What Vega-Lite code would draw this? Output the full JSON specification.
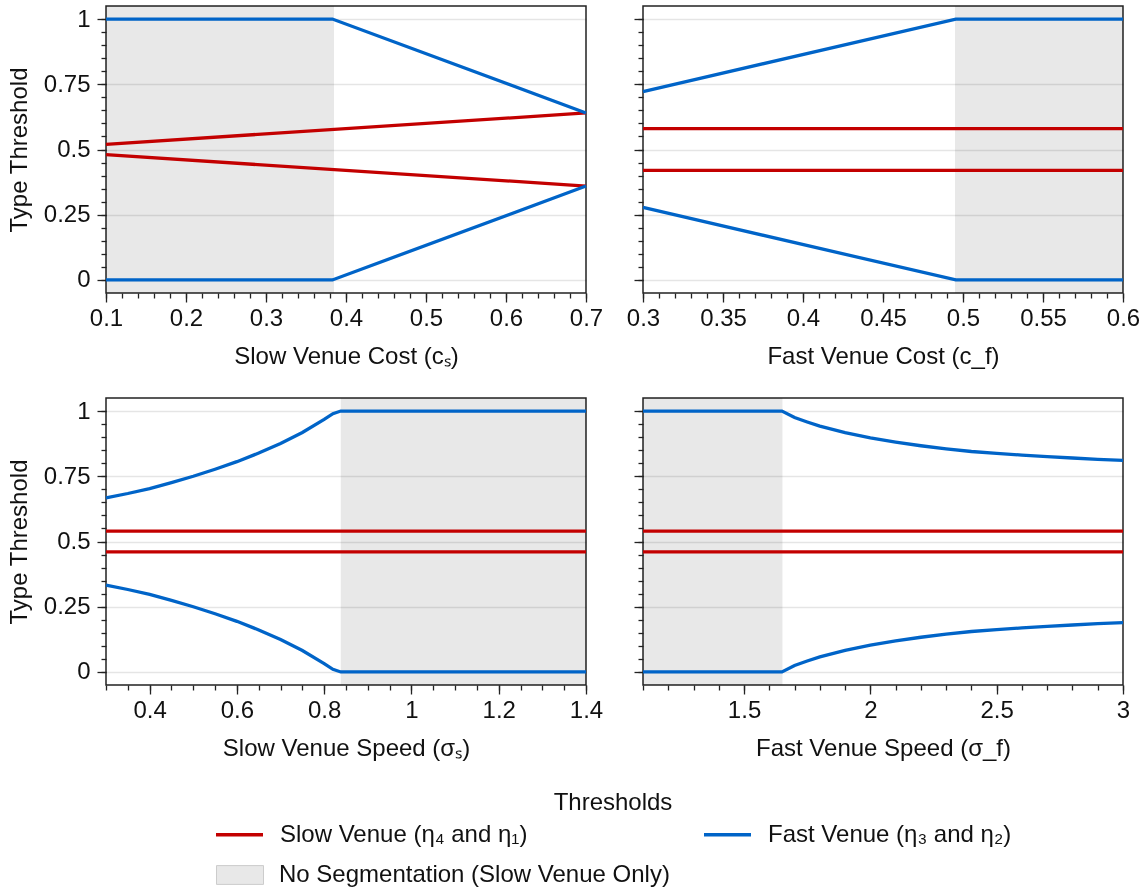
{
  "$schema": "https://vega.github.io/schema/vega-lite/v6.json",
  "padding": {"left": 6, "top": 5, "right": 3, "bottom": 3},
  "config": {
    "font": "Liberation Sans",
    "view": {"stroke": "#222222", "strokeWidth": 1.5},
    "axis": {"domain": false, "labelFontSize": 24, "titleFontSize": 24, "titleFontWeight": "normal", "labelColor": "#111111", "titleColor": "#111111", "tickColor": "#222222", "tickWidth": 1.3, "gridColor": "#000000", "gridOpacity": 0.1, "gridWidth": 1.3, "labelFlush": false, "labelOverlap": false},
    "axisX": {"labelPadding": 4.5, "titlePadding": 14},
    "axisY": {"labelPadding": 7, "titlePadding": 12},
    "legend": {"labelFontSize": 24, "titleFontSize": 24, "titleFontWeight": "normal", "labelColor": "#111111", "titleColor": "#111111", "labelLimit": 600}
  },
  "datasets": {
    "shade": [
      {"p": "cs", "x": 0.1, "xe": 0.385, "s": "No Segmentation (Slow Venue Only)"},
      {"p": "cf", "x": 0.495, "xe": 0.6, "s": "No Segmentation (Slow Venue Only)"},
      {"p": "ss", "x": 0.838, "xe": 1.4, "s": "No Segmentation (Slow Venue Only)"},
      {"p": "sf", "x": 1.1, "xe": 1.652, "s": "No Segmentation (Slow Venue Only)"}
    ],
    "lines": [
      {"p": "cs", "id": "bu", "s": "Fast Venue (η₃ and η₂)", "x": 0.1, "y": 1},
      {"p": "cs", "id": "bu", "s": "Fast Venue (η₃ and η₂)", "x": 0.383, "y": 1},
      {"p": "cs", "id": "bu", "s": "Fast Venue (η₃ and η₂)", "x": 0.7, "y": 0.64},
      {"p": "cs", "id": "bl", "s": "Fast Venue (η₃ and η₂)", "x": 0.1, "y": 0},
      {"p": "cs", "id": "bl", "s": "Fast Venue (η₃ and η₂)", "x": 0.383, "y": 0},
      {"p": "cs", "id": "bl", "s": "Fast Venue (η₃ and η₂)", "x": 0.7, "y": 0.36},
      {"p": "cs", "id": "ru", "s": "Slow Venue (η₄ and η₁)", "x": 0.1, "y": 0.52},
      {"p": "cs", "id": "ru", "s": "Slow Venue (η₄ and η₁)", "x": 0.7, "y": 0.64},
      {"p": "cs", "id": "rl", "s": "Slow Venue (η₄ and η₁)", "x": 0.1, "y": 0.48},
      {"p": "cs", "id": "rl", "s": "Slow Venue (η₄ and η₁)", "x": 0.7, "y": 0.36},
      {"p": "cf", "id": "bu", "s": "Fast Venue (η₃ and η₂)", "x": 0.3, "y": 0.722},
      {"p": "cf", "id": "bu", "s": "Fast Venue (η₃ and η₂)", "x": 0.4955, "y": 1},
      {"p": "cf", "id": "bu", "s": "Fast Venue (η₃ and η₂)", "x": 0.6, "y": 1},
      {"p": "cf", "id": "bl", "s": "Fast Venue (η₃ and η₂)", "x": 0.3, "y": 0.278},
      {"p": "cf", "id": "bl", "s": "Fast Venue (η₃ and η₂)", "x": 0.4955, "y": 0},
      {"p": "cf", "id": "bl", "s": "Fast Venue (η₃ and η₂)", "x": 0.6, "y": 0},
      {"p": "cf", "id": "ru", "s": "Slow Venue (η₄ and η₁)", "x": 0.3, "y": 0.58},
      {"p": "cf", "id": "ru", "s": "Slow Venue (η₄ and η₁)", "x": 0.6, "y": 0.58},
      {"p": "cf", "id": "rl", "s": "Slow Venue (η₄ and η₁)", "x": 0.3, "y": 0.42},
      {"p": "cf", "id": "rl", "s": "Slow Venue (η₄ and η₁)", "x": 0.6, "y": 0.42},
      {"p": "ss", "id": "bu", "s": "Fast Venue (η₃ and η₂)", "x": 0.3, "y": 0.667},
      {"p": "ss", "id": "bu", "s": "Fast Venue (η₃ and η₂)", "x": 0.35, "y": 0.684},
      {"p": "ss", "id": "bu", "s": "Fast Venue (η₃ and η₂)", "x": 0.4, "y": 0.703},
      {"p": "ss", "id": "bu", "s": "Fast Venue (η₃ and η₂)", "x": 0.45, "y": 0.726},
      {"p": "ss", "id": "bu", "s": "Fast Venue (η₃ and η₂)", "x": 0.5, "y": 0.75},
      {"p": "ss", "id": "bu", "s": "Fast Venue (η₃ and η₂)", "x": 0.55, "y": 0.777},
      {"p": "ss", "id": "bu", "s": "Fast Venue (η₃ and η₂)", "x": 0.6, "y": 0.806},
      {"p": "ss", "id": "bu", "s": "Fast Venue (η₃ and η₂)", "x": 0.65, "y": 0.839},
      {"p": "ss", "id": "bu", "s": "Fast Venue (η₃ and η₂)", "x": 0.7, "y": 0.876},
      {"p": "ss", "id": "bu", "s": "Fast Venue (η₃ and η₂)", "x": 0.75, "y": 0.918},
      {"p": "ss", "id": "bu", "s": "Fast Venue (η₃ and η₂)", "x": 0.8, "y": 0.968},
      {"p": "ss", "id": "bu", "s": "Fast Venue (η₃ and η₂)", "x": 0.82, "y": 0.99},
      {"p": "ss", "id": "bu", "s": "Fast Venue (η₃ and η₂)", "x": 0.838, "y": 1},
      {"p": "ss", "id": "bu", "s": "Fast Venue (η₃ and η₂)", "x": 1.4, "y": 1},
      {"p": "ss", "id": "bl", "s": "Fast Venue (η₃ and η₂)", "x": 0.3, "y": 0.333},
      {"p": "ss", "id": "bl", "s": "Fast Venue (η₃ and η₂)", "x": 0.35, "y": 0.316},
      {"p": "ss", "id": "bl", "s": "Fast Venue (η₃ and η₂)", "x": 0.4, "y": 0.297},
      {"p": "ss", "id": "bl", "s": "Fast Venue (η₃ and η₂)", "x": 0.45, "y": 0.274},
      {"p": "ss", "id": "bl", "s": "Fast Venue (η₃ and η₂)", "x": 0.5, "y": 0.25},
      {"p": "ss", "id": "bl", "s": "Fast Venue (η₃ and η₂)", "x": 0.55, "y": 0.223},
      {"p": "ss", "id": "bl", "s": "Fast Venue (η₃ and η₂)", "x": 0.6, "y": 0.194},
      {"p": "ss", "id": "bl", "s": "Fast Venue (η₃ and η₂)", "x": 0.65, "y": 0.161},
      {"p": "ss", "id": "bl", "s": "Fast Venue (η₃ and η₂)", "x": 0.7, "y": 0.124},
      {"p": "ss", "id": "bl", "s": "Fast Venue (η₃ and η₂)", "x": 0.75, "y": 0.082},
      {"p": "ss", "id": "bl", "s": "Fast Venue (η₃ and η₂)", "x": 0.8, "y": 0.032},
      {"p": "ss", "id": "bl", "s": "Fast Venue (η₃ and η₂)", "x": 0.82, "y": 0.01},
      {"p": "ss", "id": "bl", "s": "Fast Venue (η₃ and η₂)", "x": 0.838, "y": 0},
      {"p": "ss", "id": "bl", "s": "Fast Venue (η₃ and η₂)", "x": 1.4, "y": 0},
      {"p": "ss", "id": "ru", "s": "Slow Venue (η₄ and η₁)", "x": 0.3, "y": 0.54},
      {"p": "ss", "id": "ru", "s": "Slow Venue (η₄ and η₁)", "x": 1.4, "y": 0.54},
      {"p": "ss", "id": "rl", "s": "Slow Venue (η₄ and η₁)", "x": 0.3, "y": 0.46},
      {"p": "ss", "id": "rl", "s": "Slow Venue (η₄ and η₁)", "x": 1.4, "y": 0.46},
      {"p": "sf", "id": "bu", "s": "Fast Venue (η₃ and η₂)", "x": 1.1, "y": 1},
      {"p": "sf", "id": "bu", "s": "Fast Venue (η₃ and η₂)", "x": 1.65, "y": 1},
      {"p": "sf", "id": "bu", "s": "Fast Venue (η₃ and η₂)", "x": 1.7, "y": 0.975},
      {"p": "sf", "id": "bu", "s": "Fast Venue (η₃ and η₂)", "x": 1.75, "y": 0.958},
      {"p": "sf", "id": "bu", "s": "Fast Venue (η₃ and η₂)", "x": 1.8, "y": 0.942},
      {"p": "sf", "id": "bu", "s": "Fast Venue (η₃ and η₂)", "x": 1.9, "y": 0.917},
      {"p": "sf", "id": "bu", "s": "Fast Venue (η₃ and η₂)", "x": 2.0, "y": 0.897},
      {"p": "sf", "id": "bu", "s": "Fast Venue (η₃ and η₂)", "x": 2.1, "y": 0.881},
      {"p": "sf", "id": "bu", "s": "Fast Venue (η₃ and η₂)", "x": 2.2, "y": 0.867},
      {"p": "sf", "id": "bu", "s": "Fast Venue (η₃ and η₂)", "x": 2.3, "y": 0.855},
      {"p": "sf", "id": "bu", "s": "Fast Venue (η₃ and η₂)", "x": 2.4, "y": 0.845},
      {"p": "sf", "id": "bu", "s": "Fast Venue (η₃ and η₂)", "x": 2.5, "y": 0.838},
      {"p": "sf", "id": "bu", "s": "Fast Venue (η₃ and η₂)", "x": 2.6, "y": 0.831},
      {"p": "sf", "id": "bu", "s": "Fast Venue (η₃ and η₂)", "x": 2.7, "y": 0.825},
      {"p": "sf", "id": "bu", "s": "Fast Venue (η₃ and η₂)", "x": 2.8, "y": 0.82},
      {"p": "sf", "id": "bu", "s": "Fast Venue (η₃ and η₂)", "x": 2.9, "y": 0.815},
      {"p": "sf", "id": "bu", "s": "Fast Venue (η₃ and η₂)", "x": 3.0, "y": 0.811},
      {"p": "sf", "id": "bl", "s": "Fast Venue (η₃ and η₂)", "x": 1.1, "y": 0},
      {"p": "sf", "id": "bl", "s": "Fast Venue (η₃ and η₂)", "x": 1.65, "y": 0},
      {"p": "sf", "id": "bl", "s": "Fast Venue (η₃ and η₂)", "x": 1.7, "y": 0.025},
      {"p": "sf", "id": "bl", "s": "Fast Venue (η₃ and η₂)", "x": 1.75, "y": 0.042},
      {"p": "sf", "id": "bl", "s": "Fast Venue (η₃ and η₂)", "x": 1.8, "y": 0.058},
      {"p": "sf", "id": "bl", "s": "Fast Venue (η₃ and η₂)", "x": 1.9, "y": 0.083},
      {"p": "sf", "id": "bl", "s": "Fast Venue (η₃ and η₂)", "x": 2.0, "y": 0.103},
      {"p": "sf", "id": "bl", "s": "Fast Venue (η₃ and η₂)", "x": 2.1, "y": 0.119},
      {"p": "sf", "id": "bl", "s": "Fast Venue (η₃ and η₂)", "x": 2.2, "y": 0.133},
      {"p": "sf", "id": "bl", "s": "Fast Venue (η₃ and η₂)", "x": 2.3, "y": 0.145},
      {"p": "sf", "id": "bl", "s": "Fast Venue (η₃ and η₂)", "x": 2.4, "y": 0.155},
      {"p": "sf", "id": "bl", "s": "Fast Venue (η₃ and η₂)", "x": 2.5, "y": 0.162},
      {"p": "sf", "id": "bl", "s": "Fast Venue (η₃ and η₂)", "x": 2.6, "y": 0.169},
      {"p": "sf", "id": "bl", "s": "Fast Venue (η₃ and η₂)", "x": 2.7, "y": 0.175},
      {"p": "sf", "id": "bl", "s": "Fast Venue (η₃ and η₂)", "x": 2.8, "y": 0.18},
      {"p": "sf", "id": "bl", "s": "Fast Venue (η₃ and η₂)", "x": 2.9, "y": 0.185},
      {"p": "sf", "id": "bl", "s": "Fast Venue (η₃ and η₂)", "x": 3.0, "y": 0.189},
      {"p": "sf", "id": "ru", "s": "Slow Venue (η₄ and η₁)", "x": 1.1, "y": 0.54},
      {"p": "sf", "id": "ru", "s": "Slow Venue (η₄ and η₁)", "x": 3.0, "y": 0.54},
      {"p": "sf", "id": "rl", "s": "Slow Venue (η₄ and η₁)", "x": 1.1, "y": 0.46},
      {"p": "sf", "id": "rl", "s": "Slow Venue (η₄ and η₁)", "x": 3.0, "y": 0.46}
    ]
  },
  "columns": 2,
  "spacing": {"row": 105, "column": 57},
  "bounds": "flush",
  "concat": [
    {
      "width": 480, "height": 287,
      "resolve": {"axis": {"x": "independent", "y": "independent"}},
      "layer": [
        {"data": {"name": "shade"}, "transform": [{"filter": "datum.p === 'cs'"}], "mark": {"type": "rect", "blend": "multiply"},
          "encoding": {
            "x": {"field": "x", "type": "quantitative", "title": null, "scale": {"domain": [0.1, 0.7], "nice": false, "zero": false},
              "axis": {"orient": "bottom", "values": [0.1,0.12,0.14,0.16,0.18,0.2,0.22,0.24,0.26,0.28,0.3,0.32,0.34,0.36,0.38,0.4,0.42,0.44,0.46,0.48,0.5,0.52,0.54,0.56,0.58,0.6,0.62,0.64,0.66,0.68,0.7], "labels": false, "grid": false, "tickSize": 5}},
            "x2": {"field": "xe"},
            "fill": {"field": "s", "type": "nominal", "title": null, "scale": {"domain": ["No Segmentation (Slow Venue Only)"], "range": ["#e8e8e8"]},
              "legend": {"title": null, "orient": "none", "legendX": 110, "legendY": 845, "symbolType": "M-1,-0.4H1V0.4H-1Z", "symbolSize": 2209, "symbolStrokeColor": "#cccccc", "symbolStrokeWidth": 1, "labelOffset": 15}}}},
        {"data": {"name": "lines"}, "transform": [{"filter": "datum.p === 'cs' && indexof(datum.s,'Slow') === 0"}], "mark": {"type": "line", "strokeWidth": 3.3},
          "encoding": {
            "x": {"field": "x", "type": "quantitative", "title": "Slow Venue Cost (cₛ)", "scale": {"domain": [0.1, 0.7], "nice": false, "zero": false},
              "axis": {"orient": "bottom", "values": [0.1,0.2,0.3,0.4,0.5,0.6,0.7], "tickSize": 9, "labelExpr": "'' + datum.value"}},
            "y": {"field": "y", "type": "quantitative", "title": "Type Threshold", "scale": {"domain": [-0.05, 1.05], "nice": false, "zero": false},
              "axis": {"orient": "left", "values": [0,0.25,0.5,0.75,1], "tickSize": 9, "labelExpr": "'' + datum.value"}},
            "stroke": {"field": "s", "type": "nominal", "title": "Thresholds", "scale": {"domain": ["Slow Venue (η₄ and η₁)", "Fast Venue (η₃ and η₂)"], "range": ["#c30000", "#0064c8"]},
              "legend": {"title": "Thresholds", "orient": "none", "legendX": 108, "legendY": 785, "direction": "horizontal", "columnPadding": 169, "symbolType": "stroke", "symbolSize": 2209, "symbolStrokeWidth": 3.3, "labelOffset": 15, "titleAnchor": "middle", "titlePadding": -6}},
            "detail": {"field": "id"}}},
        {"data": {"name": "lines"}, "transform": [{"filter": "datum.p === 'cs' && indexof(datum.s,'Fast') === 0"}], "mark": {"type": "line", "strokeWidth": 3.3},
          "encoding": {
            "x": {"field": "x", "type": "quantitative", "axis": null},
            "y": {"field": "y", "type": "quantitative", "title": null,
              "axis": {"orient": "left", "values": [0,0.05,0.1,0.15,0.2,0.25,0.3,0.35,0.4,0.45,0.5,0.55,0.6,0.65,0.7,0.75,0.8,0.85,0.9,0.95,1], "labels": false, "grid": false, "tickSize": 5}},
            "stroke": {"field": "s", "type": "nominal", "title": "Thresholds"},
            "detail": {"field": "id"}}}
      ]
    },
    {
      "width": 480, "height": 287,
      "resolve": {"axis": {"x": "independent", "y": "independent"}},
      "layer": [
        {"data": {"name": "shade"}, "transform": [{"filter": "datum.p === 'cf'"}], "mark": {"type": "rect", "blend": "multiply"},
          "encoding": {
            "x": {"field": "x", "type": "quantitative", "title": null, "scale": {"domain": [0.3, 0.6], "nice": false, "zero": false},
              "axis": {"orient": "bottom", "values": [0.3,0.31,0.32,0.33,0.34,0.35,0.36,0.37,0.38,0.39,0.4,0.41,0.42,0.43,0.44,0.45,0.46,0.47,0.48,0.49,0.5,0.51,0.52,0.53,0.54,0.55,0.56,0.57,0.58,0.59,0.6], "labels": false, "grid": false, "tickSize": 5}},
            "x2": {"field": "xe"},
            "fill": {"field": "s", "type": "nominal", "title": null}}},
        {"data": {"name": "lines"}, "transform": [{"filter": "datum.p === 'cf' && indexof(datum.s,'Slow') === 0"}], "mark": {"type": "line", "strokeWidth": 3.3},
          "encoding": {
            "x": {"field": "x", "type": "quantitative", "title": "Fast Venue Cost (c_f)", "scale": {"domain": [0.3, 0.6], "nice": false, "zero": false},
              "axis": {"orient": "bottom", "values": [0.3,0.35,0.4,0.45,0.5,0.55,0.6], "tickSize": 9, "labelExpr": "'' + datum.value"}},
            "y": {"field": "y", "type": "quantitative", "title": null, "scale": {"domain": [-0.05, 1.05], "nice": false, "zero": false},
              "axis": {"orient": "left", "values": [0,0.25,0.5,0.75,1], "labels": false, "tickSize": 9}},
            "stroke": {"field": "s", "type": "nominal", "title": "Thresholds"},
            "detail": {"field": "id"}}},
        {"data": {"name": "lines"}, "transform": [{"filter": "datum.p === 'cf' && indexof(datum.s,'Fast') === 0"}], "mark": {"type": "line", "strokeWidth": 3.3},
          "encoding": {
            "x": {"field": "x", "type": "quantitative", "axis": null},
            "y": {"field": "y", "type": "quantitative", "title": null,
              "axis": {"orient": "left", "values": [0,0.05,0.1,0.15,0.2,0.25,0.3,0.35,0.4,0.45,0.5,0.55,0.6,0.65,0.7,0.75,0.8,0.85,0.9,0.95,1], "labels": false, "grid": false, "tickSize": 5}},
            "stroke": {"field": "s", "type": "nominal", "title": "Thresholds"},
            "detail": {"field": "id"}}}
      ]
    },
    {
      "width": 480, "height": 287,
      "resolve": {"axis": {"x": "independent", "y": "independent"}},
      "layer": [
        {"data": {"name": "shade"}, "transform": [{"filter": "datum.p === 'ss'"}], "mark": {"type": "rect", "blend": "multiply"},
          "encoding": {
            "x": {"field": "x", "type": "quantitative", "title": null, "scale": {"domain": [0.3, 1.4], "nice": false, "zero": false},
              "axis": {"orient": "bottom", "values": [0.3,0.35,0.4,0.45,0.5,0.55,0.6,0.65,0.7,0.75,0.8,0.85,0.9,0.95,1,1.05,1.1,1.15,1.2,1.25,1.3,1.35,1.4], "labels": false, "grid": false, "tickSize": 5}},
            "x2": {"field": "xe"},
            "fill": {"field": "s", "type": "nominal", "title": null}}},
        {"data": {"name": "lines"}, "transform": [{"filter": "datum.p === 'ss' && indexof(datum.s,'Slow') === 0"}], "mark": {"type": "line", "strokeWidth": 3.3},
          "encoding": {
            "x": {"field": "x", "type": "quantitative", "title": "Slow Venue Speed (σₛ)", "scale": {"domain": [0.3, 1.4], "nice": false, "zero": false},
              "axis": {"orient": "bottom", "values": [0.4,0.6,0.8,1,1.2,1.4], "tickSize": 9, "labelExpr": "'' + datum.value"}},
            "y": {"field": "y", "type": "quantitative", "title": "Type Threshold", "scale": {"domain": [-0.05, 1.05], "nice": false, "zero": false},
              "axis": {"orient": "left", "values": [0,0.25,0.5,0.75,1], "tickSize": 9, "labelExpr": "'' + datum.value"}},
            "stroke": {"field": "s", "type": "nominal", "title": "Thresholds"},
            "detail": {"field": "id"}}},
        {"data": {"name": "lines"}, "transform": [{"filter": "datum.p === 'ss' && indexof(datum.s,'Fast') === 0"}], "mark": {"type": "line", "strokeWidth": 3.3},
          "encoding": {
            "x": {"field": "x", "type": "quantitative", "axis": null},
            "y": {"field": "y", "type": "quantitative", "title": null,
              "axis": {"orient": "left", "values": [0,0.05,0.1,0.15,0.2,0.25,0.3,0.35,0.4,0.45,0.5,0.55,0.6,0.65,0.7,0.75,0.8,0.85,0.9,0.95,1], "labels": false, "grid": false, "tickSize": 5}},
            "stroke": {"field": "s", "type": "nominal", "title": "Thresholds"},
            "detail": {"field": "id"}}}
      ]
    },
    {
      "width": 480, "height": 287,
      "resolve": {"axis": {"x": "independent", "y": "independent"}},
      "layer": [
        {"data": {"name": "shade"}, "transform": [{"filter": "datum.p === 'sf'"}], "mark": {"type": "rect", "blend": "multiply"},
          "encoding": {
            "x": {"field": "x", "type": "quantitative", "title": null, "scale": {"domain": [1.1, 3], "nice": false, "zero": false},
              "axis": {"orient": "bottom", "values": [1.1,1.2,1.3,1.4,1.5,1.6,1.7,1.8,1.9,2,2.1,2.2,2.3,2.4,2.5,2.6,2.7,2.8,2.9,3], "labels": false, "grid": false, "tickSize": 5}},
            "x2": {"field": "xe"},
            "fill": {"field": "s", "type": "nominal", "title": null}}},
        {"data": {"name": "lines"}, "transform": [{"filter": "datum.p === 'sf' && indexof(datum.s,'Slow') === 0"}], "mark": {"type": "line", "strokeWidth": 3.3},
          "encoding": {
            "x": {"field": "x", "type": "quantitative", "title": "Fast Venue Speed (σ_f)", "scale": {"domain": [1.1, 3], "nice": false, "zero": false},
              "axis": {"orient": "bottom", "values": [1.5,2,2.5,3], "tickSize": 9, "labelExpr": "'' + datum.value"}},
            "y": {"field": "y", "type": "quantitative", "title": null, "scale": {"domain": [-0.05, 1.05], "nice": false, "zero": false},
              "axis": {"orient": "left", "values": [0,0.25,0.5,0.75,1], "labels": false, "tickSize": 9}},
            "stroke": {"field": "s", "type": "nominal", "title": "Thresholds"},
            "detail": {"field": "id"}}},
        {"data": {"name": "lines"}, "transform": [{"filter": "datum.p === 'sf' && indexof(datum.s,'Fast') === 0"}], "mark": {"type": "line", "strokeWidth": 3.3},
          "encoding": {
            "x": {"field": "x", "type": "quantitative", "axis": null},
            "y": {"field": "y", "type": "quantitative", "title": null,
              "axis": {"orient": "left", "values": [0,0.05,0.1,0.15,0.2,0.25,0.3,0.35,0.4,0.45,0.5,0.55,0.6,0.65,0.7,0.75,0.8,0.85,0.9,0.95,1], "labels": false, "grid": false, "tickSize": 5}},
            "stroke": {"field": "s", "type": "nominal", "title": "Thresholds"},
            "detail": {"field": "id"}}}
      ]
    }
  ]
}
